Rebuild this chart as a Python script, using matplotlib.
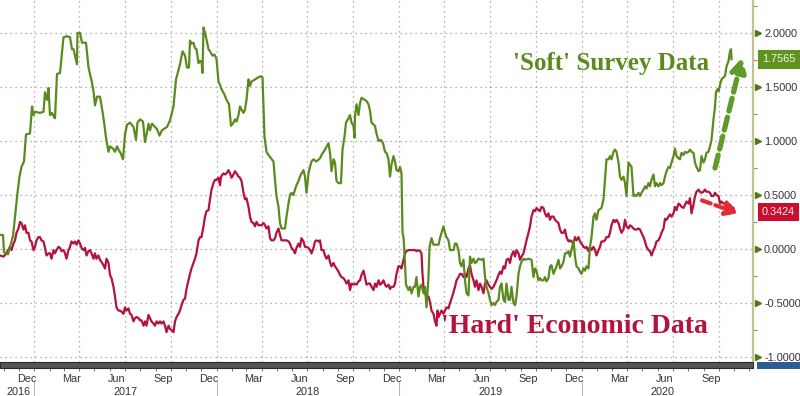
import numpy as np
import matplotlib
matplotlib.use("Agg")
import matplotlib.pyplot as plt
import matplotlib.dates as mdates
import matplotlib.transforms as mtransforms
from matplotlib.patches import Rectangle

# ---------------- data (days since 2017-01-01, index values) ----------------
base_date = np.datetime64("2017-01-01")

soft_days = [-69, -63, -61, -53, -43, -39, -34, -30, -26, -21, -17, -9, -5, -2, 1, 11, 18, 21, 25, 28,
             31, 35, 38, 41, 45, 51, 55, 58, 65, 71, 75, 78, 81, 85, 86, 91, 95, 98, 103, 108,
             115, 118, 121, 125, 131, 135, 139, 143, 148, 151, 157, 161, 165, 168, 173, 177, 181, 185, 191, 198,
             203, 206, 211, 217, 221, 225, 228, 231, 235, 241, 245, 250, 255, 265, 271, 278, 283, 288, 291, 296,
             301, 305, 309, 311, 314, 318, 321, 324, 328, 331, 334, 336, 338, 341, 344, 348, 351, 356, 360, 364,
             368, 371, 374, 380, 384, 389, 393, 398, 401, 404, 408, 411, 414, 418, 421, 424, 428, 431, 434, 441,
             448, 453, 456, 460, 464, 468, 473, 478, 481, 484, 488, 491, 494, 498, 501, 504, 508, 511, 514, 518,
             521, 524, 528, 531, 534, 538, 541, 544, 548, 551, 554, 558, 564, 571, 574, 581, 588, 591, 594, 598,
             601, 604, 608, 613, 616, 620, 623, 628, 631, 634, 638, 640, 641, 644, 648, 651, 654, 661, 664, 668,
             671, 674, 681, 684, 688, 693, 697, 701, 704, 708, 711, 714, 718, 721, 724, 728, 731, 734, 736, 738,
             740, 743, 748, 751, 754, 758, 761, 764, 768, 771, 774, 778, 781, 784, 788, 790, 794, 798, 808, 811,
             814, 818, 821, 824, 828, 831, 838, 841, 844, 848, 851, 854, 858, 861, 864, 868, 871, 874, 878, 881,
             884, 888, 894, 898, 901, 904, 908, 911, 914, 918, 921, 924, 928, 931, 934, 938, 941, 944, 948, 951,
             954, 958, 961, 964, 968, 971, 974, 978, 981, 988, 994, 998, 1001, 1004, 1008, 1011, 1014, 1018, 1021, 1024,
             1028, 1031, 1034, 1038, 1044, 1048, 1051, 1054, 1058, 1061, 1064, 1068, 1071, 1074, 1078, 1081, 1084, 1088, 1091, 1094,
             1098, 1101, 1104, 1108, 1111, 1114, 1118, 1121, 1124, 1128, 1134, 1138, 1141, 1144, 1148, 1151, 1154, 1158, 1161, 1164,
             1168, 1171, 1174, 1178, 1181, 1184, 1188, 1191, 1194, 1198, 1201, 1204, 1208, 1211, 1214, 1218, 1221, 1224, 1228, 1231,
             1234, 1238, 1241, 1244, 1248, 1251, 1254, 1258, 1261, 1264, 1268, 1271, 1274, 1278, 1281, 1284, 1288, 1291, 1294, 1298,
             1301, 1304, 1308, 1311, 1314, 1318, 1321, 1324, 1328, 1331, 1334, 1338, 1341, 1344, 1348, 1351, 1354, 1358, 1361, 1363,
             1366, 1368, 1371, 1374, 1378, 1381, 1384, 1388, 1391, 1393, 1394]

soft_vals = [0.13, 0.13, -0.03, -0.05, 0.12, 0.30, 0.52, 0.67, 0.76, 0.81, 1.06, 1.07, 1.32, 1.24, 1.27, 1.26, 1.27, 1.45, 1.38, 1.49,
             1.24, 1.26, 1.23, 1.21, 1.62, 1.63, 1.82, 1.96, 1.97, 1.96, 1.85, 1.85, 1.79, 1.71, 2.00, 2.00, 1.91, 1.91, 1.91, 1.68,
             1.54, 1.46, 1.33, 1.41, 1.41, 1.30, 1.18, 1.03, 0.90, 0.95, 0.93, 0.90, 0.95, 0.92, 0.88, 0.83, 1.06, 1.15, 1.17, 1.13,
             1.01, 1.17, 1.20, 1.18, 0.99, 1.08, 1.16, 1.10, 1.16, 1.13, 1.11, 1.05, 1.10, 1.13, 1.19, 1.32, 1.57, 1.66, 1.71, 1.83,
             1.79, 1.68, 1.68, 1.93, 1.90, 1.91, 1.86, 1.85, 1.72, 1.74, 1.74, 1.63, 2.05, 2.00, 1.94, 1.85, 1.83, 1.79, 1.80, 1.76,
             1.55, 1.52, 1.48, 1.43, 1.38, 1.34, 1.14, 1.17, 1.20, 1.18, 1.24, 1.32, 1.29, 1.26, 1.29, 1.38, 1.57, 1.51, 1.55, 1.57,
             1.59, 1.60, 1.59, 1.04, 0.90, 0.87, 0.84, 0.81, 0.64, 0.49, 0.39, 0.24, 0.19, 0.19, 0.19, 0.30, 0.42, 0.50, 0.52, 0.50,
             0.55, 0.59, 0.63, 0.67, 0.70, 0.73, 0.67, 0.52, 0.70, 0.76, 0.81, 0.83, 0.81, 0.84, 0.87, 0.92, 0.98, 0.89, 0.72, 0.83,
             0.80, 0.63, 0.61, 0.61, 0.92, 1.04, 1.17, 1.21, 1.24, 1.17, 1.14, 1.03, 1.23, 1.34, 1.24, 1.35, 1.40, 1.38, 1.37, 1.34,
             1.28, 1.17, 1.14, 1.07, 1.00, 1.01, 0.98, 0.90, 0.89, 0.83, 0.67, 0.78, 0.86, 0.81, 0.73, 0.72, 0.76, 0.70, 0.15, 0.11,
             -0.04, -0.33, -0.38, -0.35, -0.41, -0.35, -0.35, -0.26, -0.44, -0.35, -0.33, -0.41, -0.35, -0.54, -0.26, 0.02, 0.10, 0.04, 0.04, 0.10,
             0.15, 0.21, 0.15, 0.11, 0.08, -0.01, -0.01, 0.05, 0.05, -0.01, -0.13, -0.16, -0.10, -0.29, -0.41, -0.43, -0.07, -0.13, -0.09, -0.13,
             -0.12, -0.09, -0.10, -0.09, -0.26, -0.35, -0.41, -0.47, -0.52, -0.50, -0.52, -0.49, -0.47, -0.35, -0.32, -0.47, -0.49, -0.32, -0.47, -0.47,
             -0.35, -0.50, -0.52, -0.44, -0.23, -0.16, -0.12, -0.09, -0.10, -0.09, -0.10, -0.26, -0.18, -0.20, -0.29, -0.27, -0.29, -0.29, -0.26, -0.30,
             -0.27, -0.16, -0.15, -0.23, -0.16, -0.10, -0.18, -0.16, -0.12, -0.04, -0.04, -0.02, -0.07, -0.01, 0.08, -0.07, -0.16, -0.18, -0.21, -0.23,
             -0.18, -0.20, -0.16, -0.18, 0.02, 0.11, 0.30, 0.33, 0.27, 0.36, 0.38, 0.46, 0.64, 0.83, 0.83, 0.86, 0.83, 0.90, 0.92, 0.90,
             0.80, 0.67, 0.64, 0.67, 0.61, 0.49, 0.80, 0.78, 0.76, 0.49, 0.50, 0.49, 0.52, 0.49, 0.52, 0.55, 0.58, 0.56, 0.61, 0.58,
             0.64, 0.69, 0.58, 0.61, 0.58, 0.61, 0.59, 0.61, 0.67, 0.72, 0.76, 0.75, 0.80, 0.86, 0.93, 0.86, 0.84, 0.83, 0.89, 0.87,
             0.90, 0.89, 0.90, 0.92, 0.90, 0.89, 0.80, 0.76, 0.72, 0.73, 0.86, 0.80, 0.83, 0.89, 0.90, 0.95, 1.01, 1.20, 1.32, 1.45,
             1.48, 1.46, 1.52, 1.57, 1.59, 1.60, 1.69, 1.74, 1.83, 1.85, 1.7565]

hard_days = [-69, -62, -56, -49, -46, -42, -39, -36, -32, -29, -26, -22, -19, -16, -12, -9, -6, -2, 1, 4,
             8, 11, 14, 18, 21, 24, 28, 31, 34, 38, 41, 44, 48, 51, 54, 58, 61, 64, 68, 71,
             74, 78, 81, 84, 88, 91, 94, 98, 101, 104, 108, 111, 114, 118, 121, 124, 128, 131, 134, 138,
             141, 144, 148, 151, 154, 158, 161, 164, 168, 171, 174, 178, 181, 184, 188, 191, 194, 198, 201, 204,
             208, 211, 214, 218, 221, 224, 228, 231, 234, 238, 241, 244, 248, 251, 254, 258, 261, 264, 268, 271,
             274, 278, 281, 284, 288, 291, 294, 298, 301, 304, 308, 311, 314, 318, 321, 324, 328, 331, 334, 338,
             341, 344, 348, 351, 354, 358, 361, 364, 368, 371, 373, 378, 381, 384, 388, 391, 394, 398, 401, 404,
             408, 411, 414, 418, 421, 424, 428, 431, 434, 438, 441, 444, 448, 451, 454, 458, 461, 464, 468, 471,
             474, 478, 481, 484, 488, 491, 494, 498, 501, 504, 508, 511, 514, 518, 521, 524, 528, 531, 534, 538,
             541, 544, 548, 551, 554, 558, 561, 564, 568, 571, 574, 578, 581, 584, 588, 591, 594, 598, 601, 604,
             608, 611, 614, 618, 621, 624, 628, 631, 634, 638, 641, 644, 648, 651, 654, 658, 661, 664, 668, 671,
             674, 678, 681, 684, 688, 691, 694, 698, 701, 704, 708, 711, 714, 718, 721, 724, 728, 731, 734, 738,
             741, 744, 748, 751, 754, 758, 761, 764, 768, 771, 774, 776, 778, 781, 784, 788, 791, 794, 798, 801,
             804, 806, 808, 811, 814, 818, 821, 824, 828, 831, 834, 838, 841, 844, 848, 851, 854, 858, 861, 864,
             868, 871, 874, 878, 881, 884, 888, 891, 894, 898, 901, 904, 908, 911, 914, 918, 921, 924, 928, 931,
             934, 938, 941, 944, 948, 951, 954, 958, 961, 964, 968, 971, 974, 978, 981, 984, 988, 991, 994, 998,
             1001, 1004, 1008, 1011, 1014, 1018, 1021, 1024, 1028, 1031, 1034, 1038, 1041, 1048, 1051, 1054, 1058, 1061, 1064, 1068,
             1071, 1074, 1078, 1081, 1084, 1088, 1091, 1094, 1098, 1101, 1104, 1108, 1111, 1114, 1118, 1121, 1124, 1128, 1131, 1134,
             1138, 1141, 1144, 1148, 1151, 1154, 1158, 1161, 1164, 1168, 1171, 1174, 1178, 1181, 1184, 1188, 1191, 1194, 1198, 1201,
             1204, 1208, 1211, 1214, 1218, 1221, 1224, 1228, 1231, 1234, 1238, 1241, 1244, 1248, 1251, 1254, 1258, 1261, 1264, 1268,
             1271, 1274, 1278, 1281, 1284, 1288, 1291, 1294, 1298, 1301, 1304, 1308, 1311, 1314, 1318, 1321, 1324, 1328, 1331, 1334,
             1338, 1341, 1344, 1348, 1351, 1354, 1358, 1361, 1364, 1368, 1371, 1374, 1378, 1381, 1384, 1388, 1391, 1394, 1398, 1400]

hard_vals = [-0.06, -0.07, -0.04, 0.02, -0.01, 0.05, 0.08, 0.15, 0.19, 0.25, 0.24, 0.18, 0.22, 0.15, 0.15, 0.08, 0.07, -0.01, 0.02, 0.08,
             0.11, 0.11, 0.08, 0.07, 0.01, -0.06, -0.04, -0.04, -0.09, -0.01, -0.04, -0.01, 0.02, 0.01, -0.02, -0.01, -0.04, -0.09, -0.01, 0.02,
             0.07, 0.05, 0.07, 0.04, 0.08, 0.05, 0.01, -0.01, 0.01, -0.06, -0.02, -0.01, -0.04, -0.09, -0.04, -0.09, -0.06, -0.10, -0.12, -0.15,
             -0.18, -0.09, -0.13, -0.24, -0.27, -0.35, -0.44, -0.54, -0.57, -0.57, -0.58, -0.60, -0.54, -0.57, -0.55, -0.60, -0.61, -0.67, -0.64, -0.63,
             -0.64, -0.66, -0.66, -0.71, -0.67, -0.71, -0.61, -0.64, -0.67, -0.69, -0.71, -0.67, -0.69, -0.67, -0.69, -0.67, -0.71, -0.77, -0.71, -0.74,
             -0.75, -0.77, -0.67, -0.63, -0.60, -0.57, -0.52, -0.47, -0.46, -0.37, -0.29, -0.23, -0.18, -0.13, -0.09, -0.04, 0.08, 0.11, 0.11, 0.21,
             0.30, 0.35, 0.36, 0.46, 0.55, 0.61, 0.64, 0.64, 0.66, 0.59, 0.67, 0.70, 0.69, 0.70, 0.73, 0.70, 0.66, 0.69, 0.72, 0.70,
             0.67, 0.66, 0.63, 0.52, 0.46, 0.47, 0.39, 0.30, 0.25, 0.24, 0.21, 0.25, 0.22, 0.22, 0.22, 0.24, 0.22, 0.19, 0.21, 0.10,
             0.08, 0.08, 0.10, 0.15, 0.19, 0.13, 0.08, 0.08, 0.08, 0.08, 0.07, 0.05, 0.01, -0.01, -0.04, 0.01, 0.05, 0.02, 0.10, 0.07,
             0.02, 0.02, 0.01, -0.01, -0.04, 0.01, 0.07, 0.08, 0.07, 0.08, -0.01, -0.01, -0.06, -0.09, -0.06, -0.12, -0.16, -0.13, -0.16, -0.18,
             -0.21, -0.24, -0.26, -0.27, -0.29, -0.32, -0.29, -0.38, -0.32, -0.33, -0.32, -0.33, -0.30, -0.29, -0.24, -0.20, -0.26, -0.33, -0.32, -0.32,
             -0.35, -0.38, -0.32, -0.35, -0.29, -0.33, -0.32, -0.29, -0.33, -0.35, -0.33, -0.37, -0.35, -0.35, -0.32, -0.23, -0.16, -0.16, -0.18, -0.10,
             -0.04, -0.02, -0.01, -0.01, -0.01, -0.01, -0.01, -0.02, -0.01, -0.02, -0.04, -0.23, -0.35, -0.41, -0.44, -0.44, -0.49, -0.57, -0.60, -0.67,
             -0.71, -0.57, -0.63, -0.60, -0.57, -0.60, -0.57, -0.54, -0.55, -0.50, -0.46, -0.40, -0.35, -0.29, -0.26, -0.23, -0.23, -0.26, -0.23, -0.26,
             -0.18, -0.15, -0.23, -0.29, -0.35, -0.29, -0.38, -0.32, -0.35, -0.41, -0.32, -0.29, -0.33, -0.35, -0.37, -0.35, -0.32, -0.29, -0.24, -0.21,
             -0.23, -0.16, -0.18, -0.10, -0.09, -0.13, -0.06, -0.02, -0.07, -0.01, -0.04, -0.10, -0.07, -0.04, 0.02, 0.08, 0.15, 0.21, 0.30, 0.36,
             0.35, 0.38, 0.36, 0.35, 0.39, 0.38, 0.33, 0.30, 0.33, 0.27, 0.30, 0.30, 0.27, 0.24, 0.18, 0.15, 0.15, 0.18, 0.11, 0.07,
             0.08, 0.07, 0.05, 0.11, 0.08, 0.11, 0.07, 0.05, 0.02, 0.01, 0.02, -0.02, 0.02, -0.01, 0.02, -0.01, -0.06, -0.01, 0.02, 0.07,
             0.07, 0.08, 0.11, 0.11, 0.15, 0.22, 0.27, 0.25, 0.27, 0.24, 0.19, 0.15, 0.18, 0.27, 0.21, 0.19, 0.22, 0.21, 0.19, 0.18,
             0.18, 0.19, 0.18, 0.15, 0.11, 0.07, 0.02, -0.01, -0.02, -0.06, -0.01, 0.02, 0.07, 0.08, 0.11, 0.15, 0.19, 0.28, 0.27, 0.30,
             0.32, 0.30, 0.33, 0.39, 0.36, 0.42, 0.41, 0.39, 0.38, 0.41, 0.44, 0.42, 0.47, 0.33, 0.41, 0.49, 0.53, 0.55, 0.53, 0.52,
             0.53, 0.55, 0.53, 0.53, 0.52, 0.49, 0.49, 0.52, 0.50, 0.49, 0.42, 0.44, 0.42, 0.42, 0.44, 0.41, 0.41, 0.39, 0.38, 0.3424]

y_ticks = [-1.0, -0.5, 0.0, 0.5, 1.0, 1.5, 2.0]
month_labels = ["Dec", "Mar", "Jun", "Sep"] * 4
month_label_dates = ["2016-12-16", "2017-03-16", "2017-06-15", "2017-09-15",
                     "2017-12-16", "2018-03-16", "2018-06-15", "2018-09-15",
                     "2018-12-16", "2019-03-16", "2019-06-15", "2019-09-15",
                     "2019-12-16", "2020-03-16", "2020-06-15", "2020-09-15"]
year_labels = ["2016", "2017", "2018", "2019", "2020"]
year_label_dates = ["2016-11-30", "2017-07-02", "2018-07-02", "2019-07-02", "2020-06-10"]
year_starts = ["2017-01-01", "2018-01-01", "2019-01-01", "2020-01-01"]

soft_label = "'Soft' Survey Data"
hard_label = "'Hard' Economic Data"

# ---------------- style ----------------
GREEN = "#5b8a1f"
RED = "#b3133c"
GRID = "#9a9a9a"

soft_dates = base_date + np.array(soft_days).astype("timedelta64[D]")
hard_dates = base_date + np.array(hard_days).astype("timedelta64[D]")

fig = plt.figure(figsize=(8.0, 3.96), dpi=100)
W, H = 800.0, 396.0
ax = fig.add_axes([0, 1 - 362 / H, 753 / W, 362 / H])

ax.plot(hard_dates, hard_vals, color=RED, lw=1.6, zorder=3, solid_joinstyle="round")
ax.plot(soft_dates, soft_vals, color=GREEN, lw=1.6, zorder=4, solid_joinstyle="round")

ax.set_xlim(base_date - np.timedelta64(69, "D"), base_date + np.timedelta64(1437, "D"))
ax.set_ylim(-1.046, 2.305)

for s in ["left", "top", "bottom"]:
    ax.spines[s].set_visible(False)
ax.spines["right"].set_color("#c2c293")
ax.spines["right"].set_linewidth(1.6)

# y axis on right
ax.yaxis.tick_right()
ax.set_yticks(y_ticks)
ax.set_yticks(np.arange(-1.0, 2.30, 0.25), minor=True)
ax.yaxis.set_major_formatter(matplotlib.ticker.FormatStrFormatter("%.4f"))
ax.tick_params(axis="y", which="major", length=0, pad=8, labelsize=7.8,
               labelcolor="#333333", labelfontfamily="Liberation Sans")
ax.tick_params(axis="y", which="minor", length=3, width=0.8, color="#8a8a8a")
tr_y = mtransforms.blended_transform_factory(ax.transAxes, ax.transData)
ax.plot([1.006] * len(y_ticks), y_ticks, linestyle="none", marker=">", markersize=4,
        color="#4e7a1c", transform=tr_y, clip_on=False, zorder=5)

# x axis: quarter grid, monthly ticks
ax.xaxis.set_major_locator(mdates.MonthLocator(bymonth=[1, 4, 7, 10]))
ax.xaxis.set_minor_locator(mdates.MonthLocator())
ax.xaxis.set_major_formatter(matplotlib.ticker.NullFormatter())
ax.tick_params(axis="x", which="both", direction="out", length=6.8, width=0.7, color="#777777")

ax.grid(True, which="major", axis="both", color=GRID, linestyle=(0, (1, 3)), linewidth=0.9)
ax.set_axisbelow(True)

tr_x = mtransforms.blended_transform_factory(ax.transData, ax.transAxes)
for lab, d in zip(month_labels, month_label_dates):
    ax.text(np.datetime64(d), -0.047, lab, transform=tr_x, ha="center", va="center",
            fontsize=7.8, color="#333333", family="Liberation Sans", clip_on=False)
for lab, d in zip(year_labels, year_label_dates):
    ax.text(np.datetime64(d), -0.083, lab, transform=tr_x, ha="center", va="center",
            fontsize=7.8, color="#333333", family="Liberation Sans", clip_on=False)
for d in year_starts:
    ax.plot([np.datetime64(d)] * 2, [-0.055, -0.1], transform=tr_x, color="#bbbbbb",
            lw=0.8, clip_on=False)

# dark scroll band under the plot
fig.patches.append(Rectangle((0, 1 - 368 / H), 753 / W, 6 / H, transform=fig.transFigure,
                             facecolor="#555555", edgecolor="#2b2b2b", lw=0.8, zorder=10))
fig.patches.append(Rectangle((757 / W, 1 - 369 / H), 43 / W, 7 / H, transform=fig.transFigure,
                             facecolor="#2f5c98", edgecolor="none", zorder=10))

# last-value badges
ax.text(1.012, soft_vals[-1], f"{soft_vals[-1]:.4f}", transform=tr_y, ha="left", va="center",
        fontsize=7.8, color="#f2f5e8", family="Liberation Sans", clip_on=False,
        bbox=dict(boxstyle="square,pad=0.4", facecolor="#5e931f", edgecolor="none"))
ax.text(1.012, hard_vals[-1], f"{hard_vals[-1]:.4f}", transform=tr_y, ha="left", va="center",
        fontsize=7.8, color="#fbeaea", family="Liberation Sans", clip_on=False,
        bbox=dict(boxstyle="square,pad=0.4", facecolor="#c8102e", edgecolor="none"))

# annotations
ax.text(base_date + np.timedelta64(1154, "D"), 1.72, soft_label, ha="center", va="center",
        fontsize=18, color=GREEN, family="Liberation Serif", fontweight="bold", zorder=6)
ax.text(base_date + np.timedelta64(1079, "D"), -0.72, hard_label, ha="center", va="center",
        fontsize=20, color=RED, family="Liberation Serif", fontweight="bold", zorder=6)

ax.annotate("", xy=(base_date + np.timedelta64(1415, "D"), 1.77),
            xytext=(base_date + np.timedelta64(1361, "D"), 0.75),
            arrowprops=dict(arrowstyle="-|>,head_length=0.8,head_width=0.45", color="#5f9a2a",
                            lw=3.8, linestyle=(0, (2.5, 1.2)), shrinkA=0, shrinkB=0), zorder=6)
ax.annotate("", xy=(base_date + np.timedelta64(1407, "D"), 0.33),
            xytext=(base_date + np.timedelta64(1335, "D"), 0.45),
            arrowprops=dict(arrowstyle="-|>,head_length=0.7,head_width=0.4", color="#e52b35",
                            lw=3.0, linestyle=(0, (2.2, 1.2)), shrinkA=0, shrinkB=0), zorder=6)

fig.savefig("out.png", dpi=100)
